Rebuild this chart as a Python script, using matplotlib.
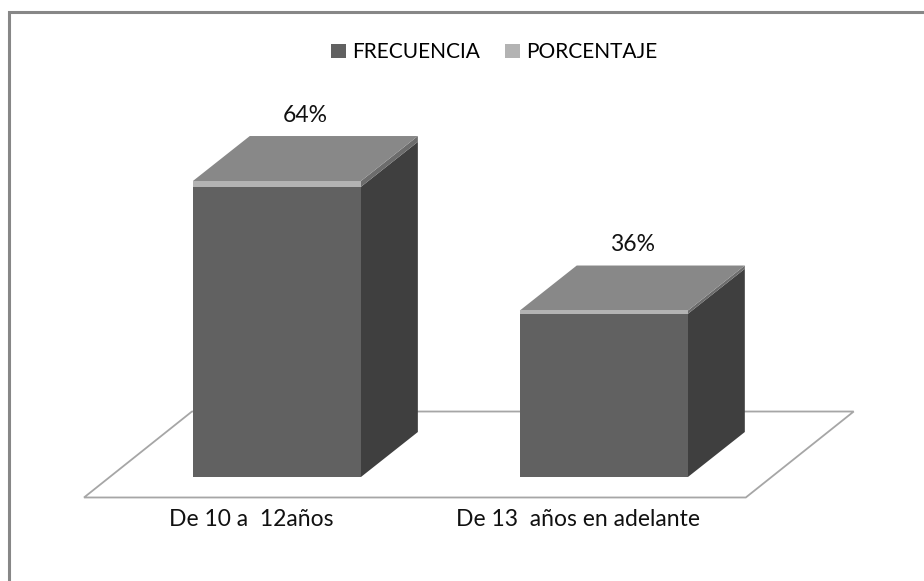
import numpy as np
import matplotlib
matplotlib.use("Agg")
import matplotlib.pyplot as plt
from matplotlib.patches import Polygon, Patch, Rectangle

# datos del grafico
categorias = ["De 10 a  12años", "De 13  años en adelante"]
frecuencia = [32, 18]
porcentaje = [0.64, 0.36]
series = ["FRECUENCIA", "PORCENTAJE"]

# colores (estilo excel 3d en grises)
COL_FRENTE = "#616161"
COL_LADO = "#3f3f3f"
COL_TECHO = "#888888"
COL_PCT = "#b3b3b3"
COL_PCT_LADO = "#6c6c6c"

plt.rcParams['font.family'] = ['Lato', 'DejaVu Sans']
TAM = 16.5

fig = plt.figure(figsize=(9.24, 5.81), dpi=100)
ax = fig.add_axes([0, 0, 1, 1])
ax.set_xlim(-0.847, 1.979)
ax.set_ylim(-11.47, 52.6)
ax.axis('off')

ancho = 0.514
# profundidad de la barra y del piso (x, y)
prof_x, prof_y = 0.174, 4.96
piso_x, piso_y = 0.330, 9.48
margen = 0.255

x = np.arange(len(categorias))

# piso
off_x = -(piso_x - prof_x) / 2
off_y = -(piso_y - prof_y) / 2
izq = x[0] - ancho / 2 - margen + off_x
der = x[-1] + ancho / 2 + margen + off_x
piso = Polygon([(izq, off_y), (der, off_y), (der + piso_x, off_y + piso_y),
                (izq + piso_x, off_y + piso_y)],
               closed=True, facecolor='white', edgecolor='#a6a6a6', lw=1.3, zorder=1)
ax.add_patch(piso)

for i in range(len(categorias)):
    f = frecuencia[i]
    p = porcentaje[i]
    t = f + p
    xd = x[i] + ancho / 2
    xi = x[i] - ancho / 2
    # cara lateral
    ax.add_patch(Polygon([(xd, 0), (xd + prof_x, prof_y), (xd + prof_x, f + prof_y), (xd, f)],
                         closed=True, facecolor=COL_LADO, edgecolor='none', zorder=2))
    ax.add_patch(Polygon([(xd, f), (xd + prof_x, f + prof_y), (xd + prof_x, t + prof_y), (xd, t)],
                         closed=True, facecolor=COL_PCT_LADO, edgecolor='none', zorder=2))
    # techo
    ax.add_patch(Polygon([(xi, t), (xi + prof_x, t + prof_y), (xd + prof_x, t + prof_y), (xd, t)],
                         closed=True, facecolor=COL_TECHO, edgecolor='none', zorder=2))
    # etiqueta de porcentaje
    ax.text(x[i] + prof_x / 2, t + prof_y + 2.3, f"{p:.0%}", ha='center', va='center',
            fontsize=TAM, color='#111111')
    # etiqueta de categoria
    ax.text(x[i] + off_x, -4.7, categorias[i], ha='center', va='center',
            fontsize=TAM, color='#111111')

# caras frontales
ax.bar(x, frecuencia, width=ancho, color=COL_FRENTE, zorder=3)
ax.bar(x, porcentaje, width=ancho, bottom=frecuencia, color=COL_PCT, zorder=3)

# borde del area del grafico
fig.patches.append(Rectangle((9 / 924, -0.1), 1.2, 1 - 12 / 581 + 0.1, transform=fig.transFigure,
                             fill=False, edgecolor='#878787', lw=2.2))

handles = [Patch(facecolor=COL_FRENTE), Patch(facecolor=COL_PCT)]
fig.legend(handles, series, loc='center', bbox_to_anchor=(0.535, 0.91), ncol=2,
           frameon=False, handlelength=0.7, handleheight=0.7, handletextpad=0.3,
           columnspacing=1.2, fontsize=15)

fig.savefig("out.png", dpi=100)
